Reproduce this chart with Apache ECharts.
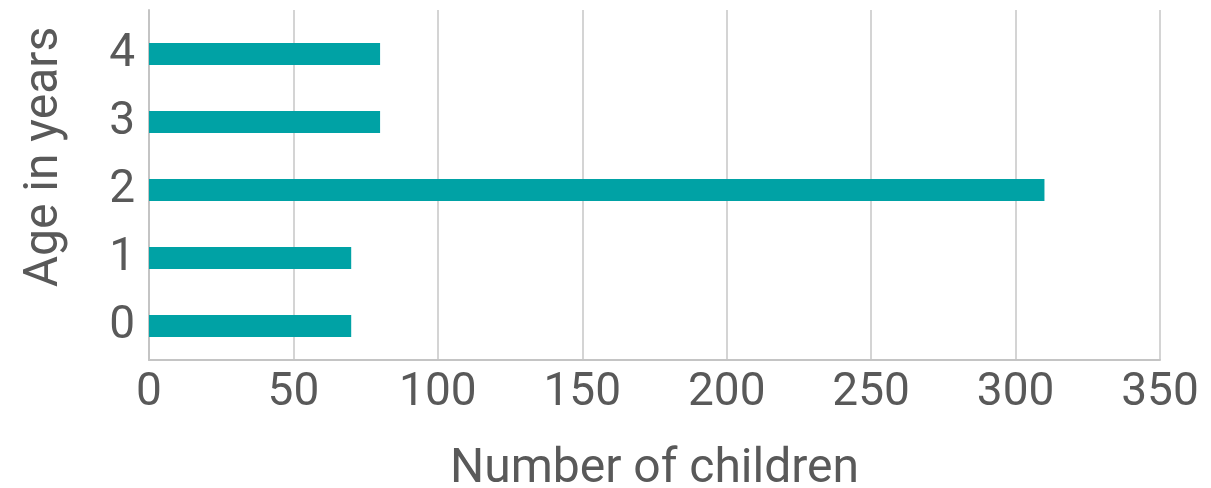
<!DOCTYPE html>
<html>
<head>
<meta charset="utf-8">
<script src="https://cdn.jsdelivr.net/npm/echarts@6/dist/echarts.min.js"></script>
<style>
html,body{margin:0;padding:0;background:#fff;}
#chart{width:1211px;height:488px;}
</style>
</head>
<body>
<div id="chart"></div>
<script>
const ages = ['0', '1', '2', '3', '4'];
const children = [70, 70, 310, 80, 80];
const xTicks = [0, 50, 100, 150, 200, 250, 300, 350];
const xAxisTitle = 'Number of children';
const yAxisTitle = 'Age in years';

const chart = echarts.init(document.getElementById('chart'), null, {renderer: 'canvas'});
const textColor = '#595959';
const font = 'Roboto';
chart.setOption({
  animation: false,
  backgroundColor: '#ffffff',
  grid: [
    {left: 149, right: 51, top: 10, bottom: 128, containLabel: false, outerBoundsMode: 'none'},
    {left: 149, right: 51, top: 20, bottom: 128, containLabel: false, outerBoundsMode: 'none'}
  ],
  xAxis: [
    {
      gridIndex: 0, type: 'value',
      min: xTicks[0], max: xTicks[xTicks.length - 1], interval: xTicks[1] - xTicks[0],
      name: xAxisTitle, nameLocation: 'middle', nameGap: 86,
      nameTextStyle: {fontFamily: font, fontSize: 48, color: textColor},
      axisLine: {show: true, lineStyle: {color: '#c4c4c4', width: 2}},
      axisTick: {show: false},
      axisLabel: {fontFamily: font, fontSize: 46, color: textColor, margin: 10},
      splitLine: {show: true, lineStyle: {color: '#d4d4d4', width: 2}}
    },
    {
      gridIndex: 1, type: 'value',
      min: xTicks[0], max: xTicks[xTicks.length - 1], interval: xTicks[1] - xTicks[0],
      show: false
    }
  ],
  yAxis: [
    {
      gridIndex: 0, type: 'value', min: 0, max: 1,
      name: yAxisTitle, nameLocation: 'middle', nameGap: 80,
      nameTextStyle: {fontFamily: font, fontSize: 48, color: textColor, padding: [0, 0, 0, 56]},
      axisLine: {show: true, lineStyle: {color: '#c4c4c4', width: 2}},
      axisTick: {show: false},
      axisLabel: {show: false},
      splitLine: {show: false}
    },
    {
      gridIndex: 1, type: 'category', data: ages,
      axisLine: {show: false},
      axisTick: {show: false},
      axisLabel: {fontFamily: font, fontSize: 46, color: textColor, margin: 14},
      splitLine: {show: false}
    }
  ],
  series: [{
    type: 'bar',
    xAxisIndex: 1, yAxisIndex: 1,
    data: children,
    barWidth: 22,
    itemStyle: {color: '#00A2A5'}
  }]
});
</script>
</body>
</html>
